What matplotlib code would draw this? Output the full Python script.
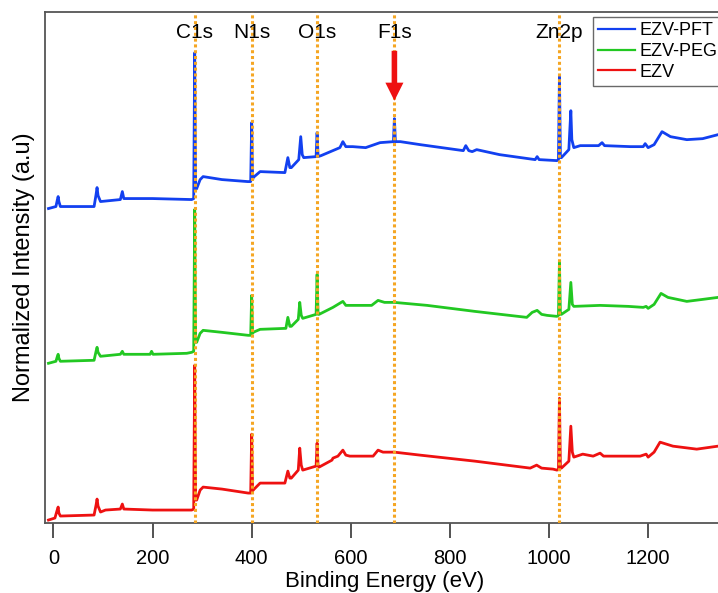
import numpy as np
import matplotlib.pyplot as plt

# survey spectra, binding energy (eV) vs normalized intensity (offset stacks)
pft_energy = [-10, 5, 8, 9.5, 11, 14, 82, 86, 88, 90, 95, 135, 139, 142, 200, 279, 283, 285, 287,
              289, 296, 302, 340, 392, 398, 400, 402, 403, 417, 467, 473, 477, 480, 495, 499, 502,
              505, 530, 532, 534, 540, 578, 584, 590, 604, 630, 659, 686, 688, 690, 700, 740, 827,
              832, 838, 845, 854, 900, 972, 976, 980, 1016, 1019, 1021, 1023, 1025, 1040, 1042,
              1044, 1046, 1050, 1063, 1100, 1107, 1112, 1164, 1190, 1194, 1200, 1212, 1228, 1245,
              1278, 1310, 1341]
pft_counts = [314, 316, 323, 326, 321, 316, 316, 328, 335, 327, 321, 323, 331, 324, 324, 323, 324,
              470, 333, 334, 343, 346, 343, 341, 341, 400, 343, 345, 351, 350, 365, 355, 355, 363,
              386, 368, 365, 366, 390, 366, 367, 375, 381, 376, 376, 375, 380, 381, 404, 381, 381,
              378, 372, 377, 372, 371, 373, 368, 363, 366, 363, 362, 363, 446, 365, 365, 373, 393,
              412, 383, 375, 377, 377, 380, 377, 376, 376, 379, 375, 378, 391, 386, 383, 384, 388]

peg_energy = [-10, 5, 8, 9.5, 11, 14, 82, 86, 88, 90, 95, 135, 139, 142, 195, 198, 201, 269, 279,
              283, 285, 287, 289, 296, 302, 340, 393, 398, 400, 402, 403, 417, 469, 473, 477, 480,
              494, 497, 500, 503, 530, 532, 534, 536, 564, 584, 590, 619, 642, 655, 668, 688, 754,
              850, 955, 966, 976, 985, 996, 1016, 1019, 1021, 1023, 1025, 1040, 1044, 1047, 1050,
              1103, 1160, 1190, 1196, 1200, 1212, 1226, 1240, 1278, 1310, 1341]
peg_counts = [159, 161, 166, 168, 164, 161, 162, 171, 175, 170, 166, 168, 171, 168, 168, 171, 168,
              169, 170, 171, 313, 180, 180, 189, 192, 190, 187, 187, 227, 189, 190, 193, 194, 205,
              196, 196, 203, 220, 207, 204, 208, 248, 208, 208, 215, 221, 217, 217, 217, 222, 220,
              220, 217, 211, 205, 210, 212, 208, 207, 206, 207, 260, 208, 208, 213, 240, 218, 216,
              217, 216, 215, 216, 214, 218, 229, 225, 221, 223, 225]

ezv_energy = [-10, 3, 7, 9.5, 11, 14, 82, 86, 88, 90, 95, 105, 135, 139, 142, 200, 279, 283, 285,
              287, 289, 296, 302, 340, 393, 398, 400, 402, 403, 417, 467, 473, 477, 480, 494, 497,
              500, 503, 530, 532, 534, 536, 562, 564, 574, 584, 590, 598, 645, 655, 665, 688, 740,
              850, 962, 975, 985, 1008, 1016, 1019, 1021, 1023, 1025, 1040, 1044, 1047, 1050, 1068,
              1089, 1103, 1110, 1184, 1196, 1200, 1212, 1224, 1250, 1298, 1341]
ezv_counts = [2, 4, 11, 15, 9, 6, 7, 17, 23, 16, 10, 12, 13, 18, 13, 12, 12, 13, 157, 22, 22, 32,
              35, 33, 29, 29, 88, 31, 32, 39, 39, 51, 44, 44, 52, 74, 57, 52, 56, 79, 56, 55, 62,
              64, 66, 72, 67, 66, 66, 72, 70, 70, 67, 61, 54, 57, 54, 53, 52, 53, 124, 54, 54, 61,
              96, 70, 65, 68, 66, 69, 66, 66, 68, 65, 70, 80, 76, 73, 76]

lines_ev = [285, 400, 532, 688, 1021]
line_names = ["C1s", "N1s", "O1s", "F1s", "Zn2p"]
xticks = [0, 200, 400, 600, 800, 1000, 1200]

plt.rcParams['font.family'] = ['Liberation Sans', 'DejaVu Sans']

fig = plt.figure(figsize=(7.18, 5.93), dpi=100)
ax = fig.add_axes([0.0627, 0.118, 0.947, 0.862])

ax.plot(pft_energy, pft_counts, color='#1240f0', lw=2.0, label='EZV-PFT')
ax.plot(peg_energy, peg_counts, color='#22c822', lw=2.0, label='EZV-PEG')
ax.plot(ezv_energy, ezv_counts, color='#ee1111', lw=2.0, label='EZV')

for ev, name in zip(lines_ev, line_names):
    ax.axvline(ev, color='#f5a623', lw=2.2, ls=(0, (1, 0.9)), zorder=5)
    ax.text(ev, 490, name, ha='center', va='center', fontsize=15, zorder=6)

# arrow marking F1s
ax.annotate('', xy=(688, 422), xytext=(688, 472), zorder=8,
            arrowprops=dict(color='#ee1111', width=4, headwidth=13, headlength=13, lw=0))

ax.set_xlim(-17, 1355)
ax.set_ylim(-1, 511)
ax.set_xticks(xticks)
ax.set_yticks([])
ax.tick_params(axis='x', direction='out', length=11, width=1.3, color='#444444',
               labelsize=14.5, pad=8)
for s in ['left', 'bottom', 'top']:
    ax.spines[s].set_color('#555555')
    ax.spines[s].set_linewidth(1.3)
ax.spines['right'].set_visible(False)

ax.set_xlabel('Binding Energy (eV)', fontsize=16, labelpad=2)
ax.set_ylabel('Normalized Intensity (a.u)', fontsize=17, labelpad=7)

leg = fig.legend(loc='upper left', bbox_to_anchor=(593 / 718, 1 - 17 / 593),
                 fontsize=13, frameon=True, fancybox=False, borderaxespad=0,
                 handlelength=2.0, handletextpad=0.25, labelspacing=0.2, borderpad=0.3)
leg.get_frame().set_edgecolor('#444444')
leg.get_frame().set_linewidth(1.0)
for h in leg.get_lines():
    h.set_linewidth(1.6)

fig.savefig('out.png', dpi=100)
